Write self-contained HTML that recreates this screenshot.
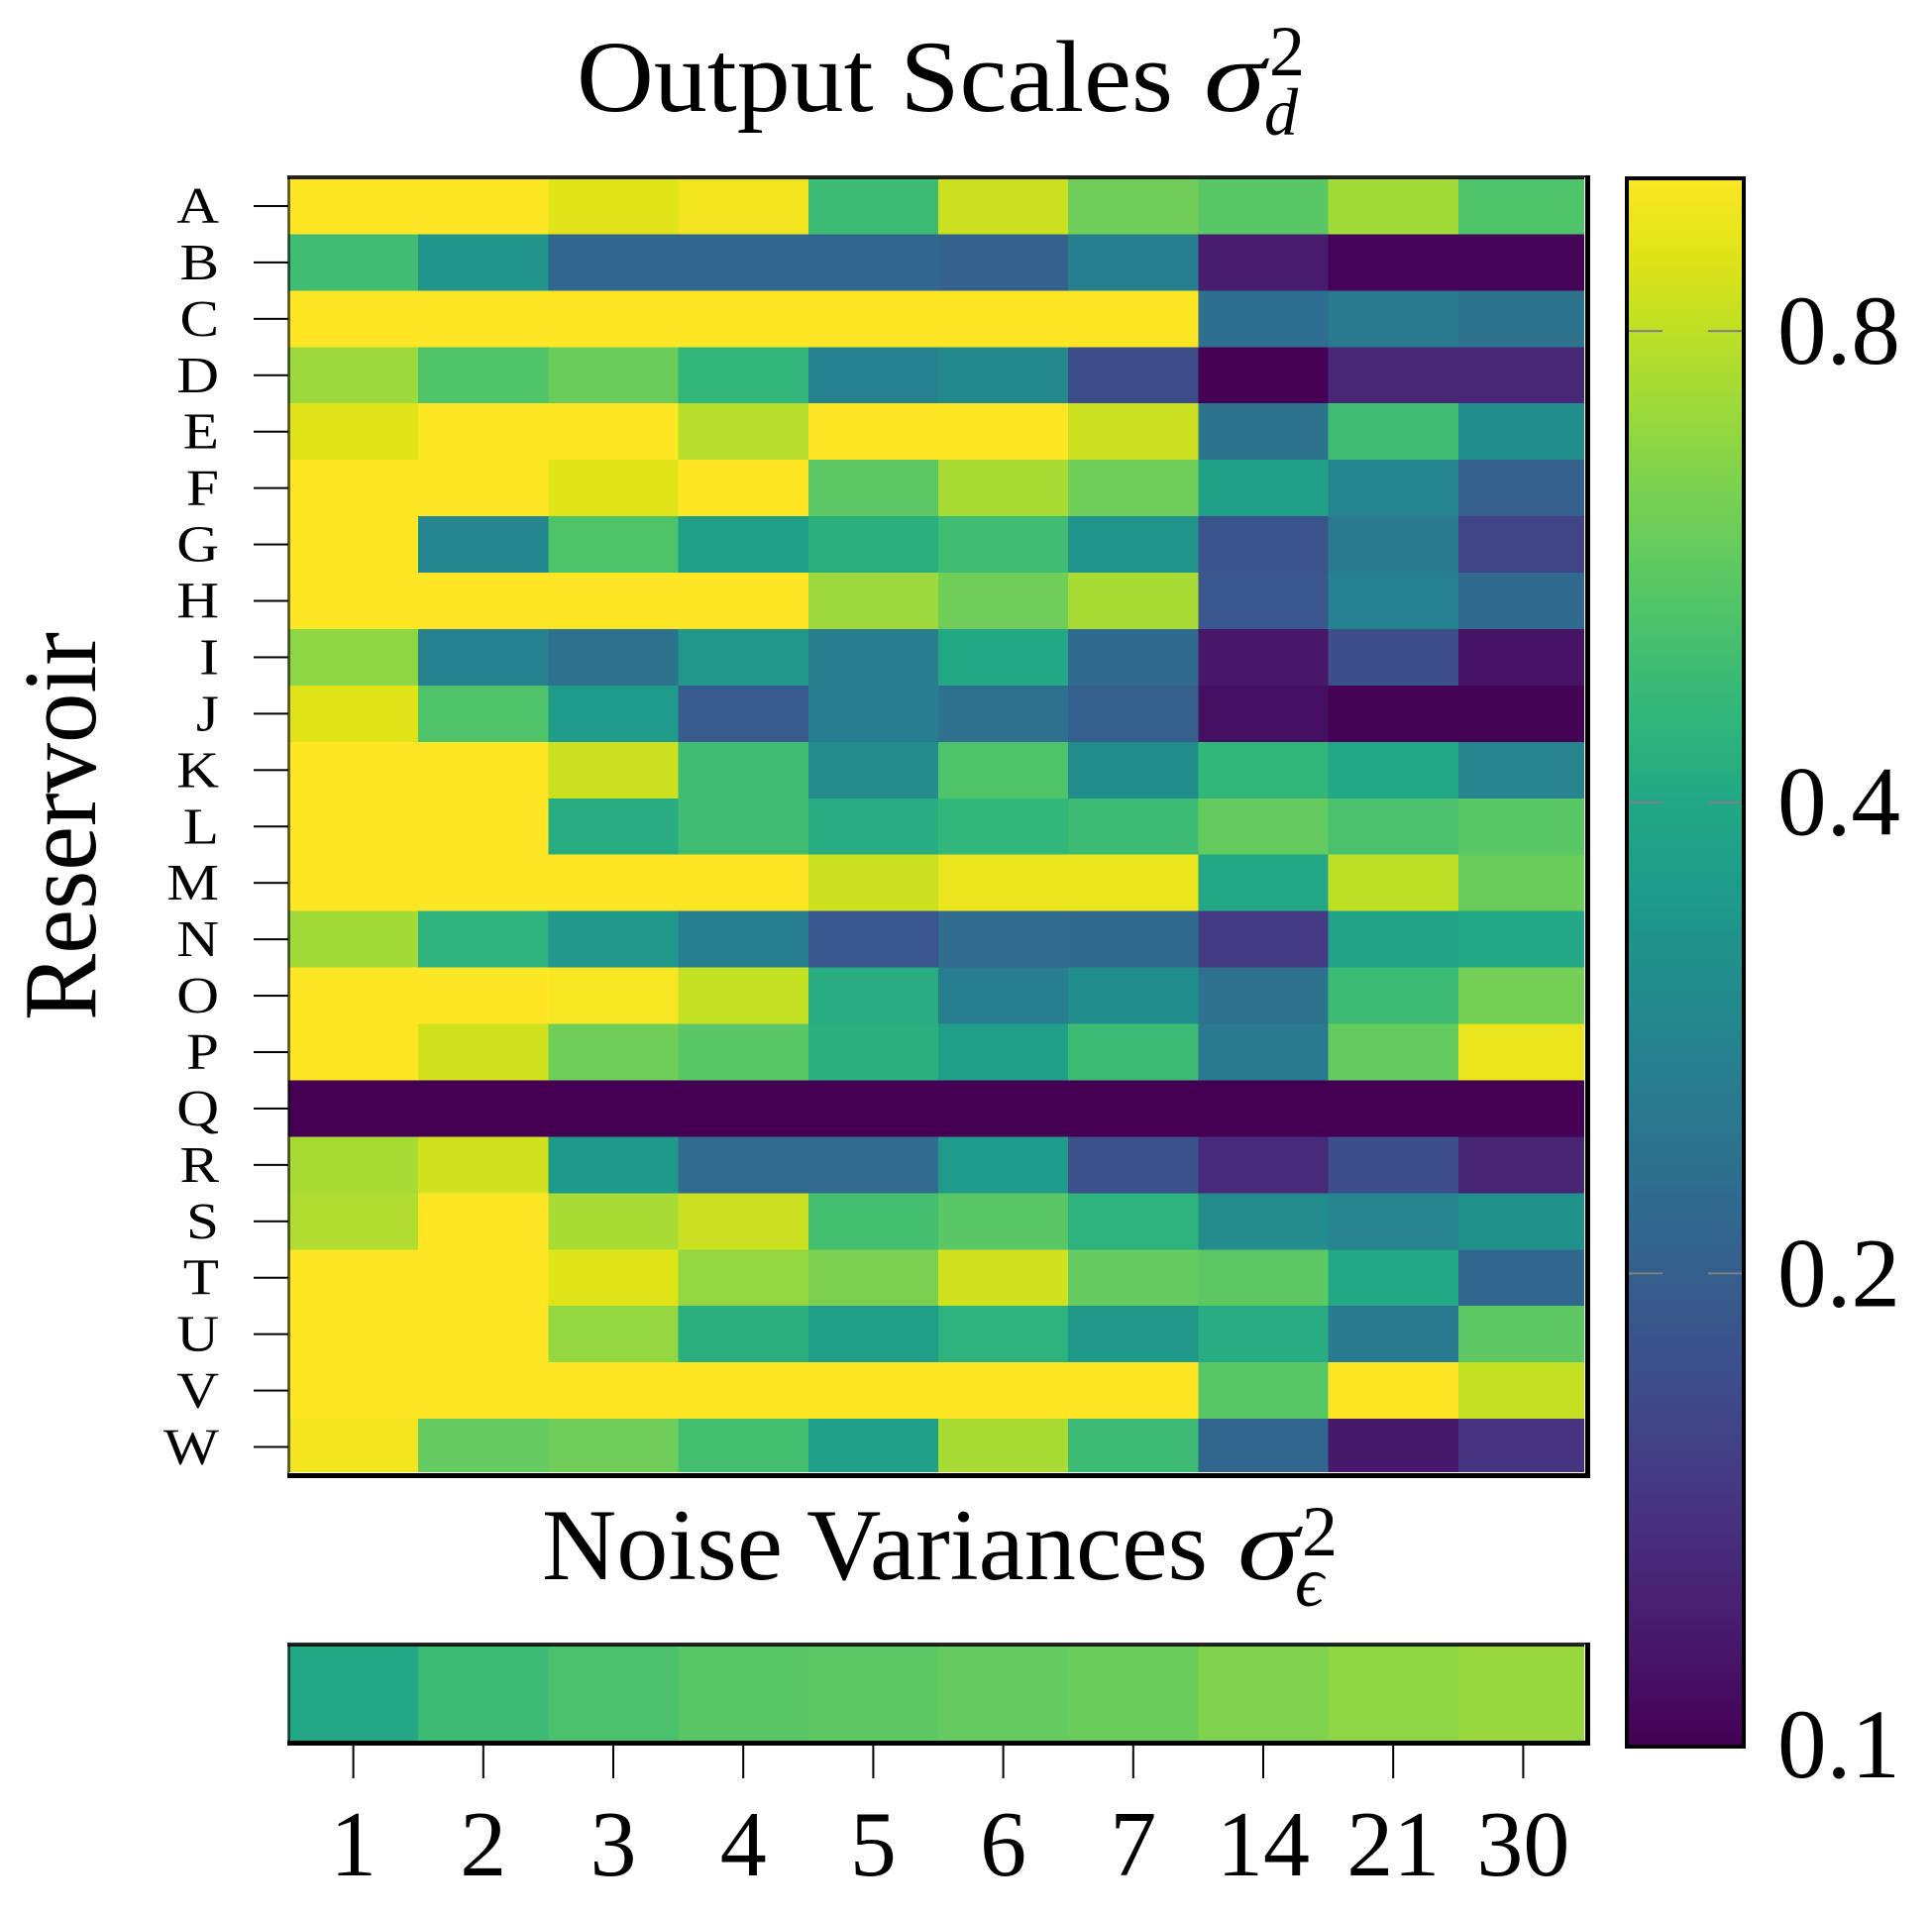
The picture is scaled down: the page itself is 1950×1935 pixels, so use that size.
<!DOCTYPE html>
<html lang="en">
<head>
<meta charset="utf-8">
<title>Output Scales heatmap</title>
<style>
html,body{margin:0;padding:0;background:#fff;}
svg{display:block;}
text{font-family:"Liberation Serif","DejaVu Serif",serif;fill:#000;}
</style>
</head>
<body>
<svg id="chart" xmlns="http://www.w3.org/2000/svg" width="1950" height="1935" viewBox="0 0 1950 1935">
  <rect x="0" y="0" width="1950" height="1935" fill="#fff"/>
  <text x="582" y="112" font-size="103" textLength="602" lengthAdjust="spacingAndGlyphs">Output Scales</text>
  <text x="1215" y="112" font-size="103" font-style="italic" textLength="62" lengthAdjust="spacingAndGlyphs">σ</text>
  <text x="1281" y="76" font-size="72">2</text>
  <text x="1276" y="136" font-size="68" font-style="italic">d</text>
  <text x="0" y="0" transform="translate(96,1030) rotate(-90)" font-size="105" textLength="392" lengthAdjust="spacingAndGlyphs">Reservoir</text>
  <text x="547" y="1594" font-size="103" textLength="672" lengthAdjust="spacingAndGlyphs">Noise Variances</text>
  <text x="1249" y="1594" font-size="103" font-style="italic" textLength="62" lengthAdjust="spacingAndGlyphs">σ</text>
  <text x="1314" y="1570" font-size="72">2</text>
  <text x="1307" y="1621" font-size="72" font-style="italic">ϵ</text>
  <g id="heat"></g>
  <g id="heatFrame"></g>
  <g id="yTicks"></g>
  <g id="strip"></g>
  <g id="stripFrame"></g>
  <g id="xTicks"></g>
  <g id="cbar"></g>
  <g id="cbarTicks"></g>
</svg>
<script>
const rowLabels = ['A','B','C','D','E','F','G','H','I','J','K','L','M','N','O','P','Q','R','S','T','U','V','W'];
const colLabels = ['1','2','3','4','5','6','7','14','21','30'];
const outputScalesA = [1,1,.891,.955,.479,.832,.603,.550,.724,.525];
const outputScalesB = [.490,.331,.214,.214,.214,.204,.269,.120,.102,.102];
const outputScalesC = [1,1,1,1,1,1,1,.229,.257,.240];
const outputScalesD = [.708,.525,.589,.457,.275,.295,.170,.100,.129,.129];
const outputScalesE = [.891,1,1,.776,1,1,.832,.240,.490,.309];
const outputScalesF = [1,1,.891,1,.562,.741,.603,.372,.288,.200];
const outputScalesG = [1,.288,.525,.363,.427,.490,.331,.182,.257,.158];
const outputScalesH = [1,1,1,1,.708,.603,.741,.186,.275,.219];
const outputScalesI = [.676,.275,.234,.339,.263,.398,.219,.115,.174,.112];
const outputScalesJ = [.891,.525,.355,.195,.263,.234,.200,.110,.101,.101];
const outputScalesK = [1,1,.832,.490,.302,.525,.309,.457,.398,.282];
const outputScalesL = [1,1,.417,.490,.417,.457,.479,.575,.513,.550];
const outputScalesM = [1,1,1,1,.832,.933,.933,.398,.794,.589];
const outputScalesN = [.724,.437,.339,.269,.186,.224,.219,.148,.380,.398];
const outputScalesO = [1,1,.977,.813,.417,.269,.309,.234,.479,.617];
const outputScalesP = [1,.851,.603,.550,.427,.363,.479,.257,.575,.933];
const outputScalesQ = [.1,.1,.1,.1,.1,.1,.1,.1,.1,.1];
const outputScalesR = [.741,.851,.347,.224,.224,.355,.178,.132,.174,.126];
const outputScalesS = [.759,1,.741,.832,.501,.550,.437,.302,.282,.316];
const outputScalesT = [1,1,.891,.692,.631,.851,.575,.562,.398,.214];
const outputScalesU = [1,1,.692,.427,.363,.437,.339,.417,.257,.562];
const outputScalesV = [1,1,1,1,1,1,1,.550,1,.813];
const outputScalesW = [.955,.575,.603,.501,.363,.741,.479,.214,.117,.141];
const outputScales = [outputScalesA,outputScalesB,outputScalesC,outputScalesD,outputScalesE,outputScalesF,outputScalesG,outputScalesH,outputScalesI,outputScalesJ,outputScalesK,outputScalesL,outputScalesM,outputScalesN,outputScalesO,outputScalesP,outputScalesQ,outputScalesR,outputScalesS,outputScalesT,outputScalesU,outputScalesV,outputScalesW];
const noiseVariances = [.398,.479,.513,.550,.562,.575,.589,.646,.676,.700];
const colorbarTickValues = [0.1,0.2,0.4,0.8];
const colorbarTickLabels = ['0.1','0.2','0.4','0.8'];
const viridisStops = ['#440154','#471365','#482475','#463480','#414487','#3b528b','#355f8d','#2f6c8e','#2a788e','#25848e','#21918c','#1e9c89','#22a884','#2fb47c','#44bf70','#5ec962','#7ad151','#9bd93c','#bddf26','#dfe318','#fde725'];

const NS = 'http://www.w3.org/2000/svg';
const plotLeft = 291, plotRight = 1603, plotTop = 179.5, plotBottom = 1489;
const stripTop = 1660, stripBottom = 1760;
const cbLeft = 1644, cbRight = 1758, cbTop = 181, cbBottom = 1761;
const domainMin = 0.1, domainMax = 1;

function hexToRgb(h){return [parseInt(h.slice(1,3),16),parseInt(h.slice(3,5),16),parseInt(h.slice(5,7),16)];}
function logNorm(v){
  const t = (Math.log10(v)-Math.log10(domainMin))/(Math.log10(domainMax)-Math.log10(domainMin));
  return Math.max(0,Math.min(1,t));
}
function color(v){
  const p = logNorm(v)*(viridisStops.length-1);
  const i = Math.min(Math.floor(p),viridisStops.length-2);
  const f = p-i;
  const a = hexToRgb(viridisStops[i]), b = hexToRgb(viridisStops[i+1]);
  return 'rgb('+a.map((c,k)=>Math.round(c+(b[k]-c)*f)).join(',')+')';
}
function xScale(i){return plotLeft+(plotRight-plotLeft)*i/colLabels.length;}
function yScale(i){return plotTop+(plotBottom-plotTop)*i/rowLabels.length;}
function cbScale(v){return cbBottom-(cbBottom-cbTop)*logNorm(v);}
function mk(tag,parent){const el=document.createElementNS(NS,tag);parent.appendChild(el);return el;}
function box(el,x,y,w,h,fill){
  el.setAttribute('x',x);el.setAttribute('y',y);el.setAttribute('width',w);el.setAttribute('height',h);el.setAttribute('fill',fill);
}

const heat = document.getElementById('heat');
outputScales.forEach((row,r)=>{
  row.forEach((v,c)=>{
    const el = mk('rect',heat);
    
    
    box(el,xScale(c),yScale(r),xScale(c+1)-xScale(c),yScale(r+1)-yScale(r),color(v));
    el.setAttribute('shape-rendering','crispEdges');
  });
});

const strip = document.getElementById('strip');
noiseVariances.forEach((v,c)=>{
  const el = mk('rect',strip);
  
  
  box(el,xScale(c),stripTop,xScale(c+1)-xScale(c),stripBottom-stripTop,color(v));
  el.setAttribute('shape-rendering','crispEdges');
});

function frame(parent,top,bottom,name,gap){
  const l = mk('rect',parent);
  
  
  box(l,290,top,3,bottom-top,'rgba(0,0,0,0.6)');
  const t = mk('rect',parent);
  
  
  box(t,290,top-2,1315,4,'rgba(0,0,0,0.85)');
  const w1 = mk('rect',parent);
  
  
  box(w1,1599,top,1,bottom-top,'#fff');
  const r = mk('rect',parent);
  
  
  box(r,1600,top-2,5,bottom-top+6,'#000');
  if(gap){
    const w2 = mk('rect',parent);
    
    
    box(w2,292,bottom-1,1308,1,'#fff');
  }
  const b = mk('rect',parent);
  
  
  box(b,290,bottom,1315,5,'#000');
}
frame(document.getElementById('heatFrame'),179,1487,'heatmap-border',true);
frame(document.getElementById('stripFrame'),1660,1757,'strip-border',false);

const yTicks = document.getElementById('yTicks');
rowLabels.forEach((lab,r)=>{
  const y = (yScale(r)+yScale(r+1))/2;
  const t = mk('rect',yTicks);
  
  
  box(t,256,y-1,35,2,'#000');
  const s = mk('text',yTicks);
  
  
  s.setAttribute('transform','translate(221,'+(y+17)+') scale(1.14,1)');
  s.setAttribute('font-size',52);
  s.setAttribute('text-anchor','end');
  s.textContent = lab;
});

const xTicks = document.getElementById('xTicks');
colLabels.forEach((lab,c)=>{
  const x = (xScale(c)+xScale(c+1))/2;
  const t = mk('rect',xTicks);
  
  
  box(t,x-1,1761,2,34,'#000');
  const s = mk('text',xTicks);
  
  
  s.setAttribute('x',x);
  s.setAttribute('y',1893);
  s.setAttribute('font-size',94);
  s.setAttribute('text-anchor','middle');
  s.textContent = lab;
});

const cbar = document.getElementById('cbar');
const cbStepCount = 256;
for(let i=0;i<cbStepCount;i++){
  const v0 = domainMin*Math.pow(domainMax/domainMin,i/cbStepCount);
  const v1 = domainMin*Math.pow(domainMax/domainMin,(i+1)/cbStepCount);
  const el = mk('rect',cbar);
  
  
  box(el,cbLeft,cbScale(v1),cbRight-cbLeft,cbScale(v0)-cbScale(v1)+0.6,color(v0));
}
const cbOutline = mk('rect',cbar);


cbOutline.setAttribute('x',1642);
cbOutline.setAttribute('y',180);
cbOutline.setAttribute('width',118);
cbOutline.setAttribute('height',1583);
cbOutline.setAttribute('fill','none');
cbOutline.setAttribute('stroke','#000');
cbOutline.setAttribute('stroke-width',4);

const cbTicks = document.getElementById('cbarTicks');
colorbarTickValues.forEach((v,i)=>{
  const y = cbScale(v);
  if(i>0){
    const a = mk('rect',cbTicks);
    
    
    box(a,cbLeft,y-1,34,2,'#808080');
    const b = mk('rect',cbTicks);
    
    
    box(b,cbRight-34,y-1,34,2,'#808080');
  }
  const s = mk('text',cbTicks);
  
  
  s.setAttribute('x',1794);
  s.setAttribute('y',y+33);
  s.setAttribute('font-size',100);
  s.setAttribute('textLength',124);
  s.setAttribute('lengthAdjust','spacingAndGlyphs');
  s.textContent = colorbarTickLabels[i];
});
</script>
</body>
</html>
